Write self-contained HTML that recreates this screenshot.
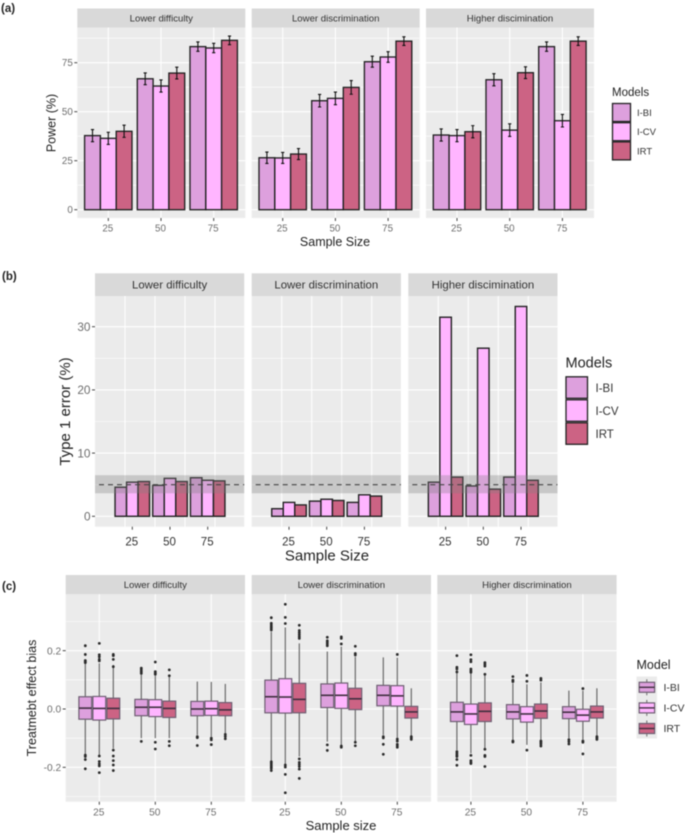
<!DOCTYPE html>
<html lang="en">
<head>
<meta charset="utf-8">
<title>Model comparison chart</title>
<style>
html,body{margin:0;padding:0;background:#fff;}
body{width:685px;height:833px;overflow:hidden;}
svg{display:block;filter:blur(0.45px);font-family:"Liberation Sans",sans-serif;}
</style>
</head>
<body>
<svg id="chart" xmlns="http://www.w3.org/2000/svg" width="685" height="833" viewBox="0 0 685 833">
  <rect width="685" height="833" fill="#fff"/>
  <g id="root"></g>
  <g fill="#222">
    <text x="1" y="12" font-size="11.5" font-weight="bold">(a)</text>
    <text x="2" y="280" font-size="11.5" font-weight="bold">(b)</text>
    <text x="2" y="590" font-size="11.5" font-weight="bold">(c)</text>

    <text transform="translate(55.5,123) rotate(-90)" text-anchor="middle" font-size="12.5">Power (%)</text>
    <text x="335" y="246" text-anchor="middle" font-size="12.5">Sample Size</text>
    <text x="612" y="96" font-size="11.5">Models</text>
    <text x="637" y="116" font-size="9.5" fill="#333">I-BI</text>
    <text x="637" y="135" font-size="9.5" fill="#333">I-CV</text>
    <text x="637" y="154.5" font-size="9.5" fill="#333">IRT</text>

    <text transform="translate(70,411.5) rotate(-90)" text-anchor="middle" font-size="15">Type 1 error (%)</text>
    <text x="327" y="560.5" text-anchor="middle" font-size="15">Sample Size</text>
    <text x="565.5" y="367.5" font-size="14.5">Models</text>
    <text x="595.5" y="392" font-size="11.5" fill="#333">I-BI</text>
    <text x="595.5" y="415" font-size="11.5" fill="#333">I-CV</text>
    <text x="595.5" y="438" font-size="11.5" fill="#333">IRT</text>

    <text transform="translate(36,698) rotate(-90)" text-anchor="middle" font-size="12.5">Treatmebt effect bias</text>
    <text x="341" y="830" text-anchor="middle" font-size="13">Sample size</text>
    <text x="636.5" y="669" font-size="12.5">Model</text>
    <text x="663.5" y="691" font-size="10.5" fill="#333">I-BI</text>
    <text x="663.5" y="711.5" font-size="10.5" fill="#333">I-CV</text>
    <text x="663.5" y="732" font-size="10.5" fill="#333">IRT</text>
  </g>
</svg>
<script>
// ---------- shared categories ----------
var sampleSizes = ['25', '50', '75'];
var modelNames = ['I-BI', 'I-CV', 'IRT'];
var conditionsA = ['Lower difficulty', 'Lower discrimination', 'Higher discimination'];
var conditionsB = ['Lower difficulty', 'Lower discrimination', 'Higher discimination'];
var conditionsC = ['Lower difficulty', 'Lower discrimination', 'Higher discrimination'];

// ---------- chart (a): power ----------
var powerValues = [
  [[37.8, 36.4, 40.0], [66.8, 63.1, 69.7], [83.2, 82.5, 86.4]],
  [[26.5, 26.4, 28.4], [55.6, 56.8, 62.4], [75.5, 77.9, 86.0]],
  [[38.1, 37.8, 39.8], [66.3, 40.6, 69.9], [83.2, 45.4, 86.0]]
];
var powerErrors = [
  [[3.1, 3.1, 3.1], [3.0, 3.1, 3.0], [2.4, 2.4, 2.2]],
  [[2.9, 2.8, 2.8], [3.2, 3.2, 3.5], [2.8, 2.7, 2.2]],
  [[3.1, 3.1, 3.1], [3.1, 3.2, 3.0], [2.4, 3.2, 2.2]]
];
var powerTicks = [0, 25, 50, 75];
var powerMinorTicks = [12.5, 37.5, 62.5, 87.5];

// ---------- chart (b): type 1 error ----------
var errorValues = [
  [[4.6, 5.4, 5.5], [4.9, 6.0, 5.5], [6.1, 5.7, 5.6]],
  [[1.2, 2.2, 1.8], [2.4, 2.7, 2.5], [2.2, 3.4, 3.2]],
  [[5.4, 31.5, 6.2], [4.8, 26.6, 4.3], [6.2, 33.2, 5.7]]
];
var errorTicks = [0, 10, 20, 30];
var errorMinorTicks = [5, 15, 25];
var nominalLevel = 5;
var bandLow = 3.64;
var bandHigh = 6.5;

// ---------- chart (c): treatment effect bias ----------
var biasQ1 = [
  [[-.035, -.038, -.034], [-.023, -.026, -.029], [-.023, -.022, -.023]],
  [[-.013, -.014, -.013], [.005, .002, -.002], [.011, .010, -.031]],
  [[-.043, -.053, -.043], [-.034, -.045, -.032], [-.033, -.042, -.031]]
];
var biasMedian = [
  [[.003, .002, .002], [.006, .006, .002], [0, .001, -.003]],
  [[.042, .041, .033], [.047, .047, .035], [.047, .045, -.010]],
  [[-.010, -.017, -.008], [-.010, -.017, -.007], [-.011, -.021, -.010]]
];
var biasQ3 = [
  [[.042, .043, .037], [.033, .032, .027], [.026, .027, .022]],
  [[.099, .104, .088], [.086, .089, .071], [.081, .080, .009]],
  [[.023, .017, .021], [.015, .008, .017], [.008, -.001, .010]]
];
var biasWhiskerLow = [
  [[-.155, -.158, -.135], [-.100, -.100, -.100], [-.089, -.095, -.083]],
  [[-.178, -.190, -.163], [-.112, -.123, -.110], [-.089, -.098, -.091]],
  [[-.141, -.152, -.135], [-.106, -.123, -.106], [-.100, -.105, -.091]]
];
var biasWhiskerHigh = [
  [[.157, .157, .151], [.117, .114, .111], [.094, .093, .086]],
  [[.265, .280, .225], [.197, .214, .179], [.177, .176, .071]],
  [[.122, .126, .117], [.088, .085, .091], [.063, .063, .071]]
];
var biasOutliers = [
  [
    [[.217, .187, .166, .162, .159, -.158, -.163, -.173, -.205],
     [.225, .186, .179, .170, .165, -.161, -.180, -.188, -.195, -.218],
     [.187, .183, .170, .145, -.141, -.161, -.177, -.192, -.211]],
    [[.140, .134, .128, .122, -.111],
     [.161, .128, .123, .119, -.114, -.137],
     [.134, .114, -.111, -.126]],
    [[-.095, -.098, -.125],
     [-.100, -.106, -.122],
     [-.087, -.094, -.102]]
  ],
  [
    [[.313, .294, .288, .282, .277, .271, -.181, -.186, -.192, -.198, -.203, -.211],
     [.359, .314, .293, -.192, -.199, -.224, -.287],
     [.287, .269, .262, .255, .248, .242, -.171, -.183, -.190, -.197, -.206, -.238]],
    [[.246, .234, .229, .223, .217, -.123, -.142],
     [.247, .242, .223, -.127, -.131],
     [.215, .190, .185, -.114, -.126]],
    [[-.095, -.099, -.121, -.155],
     [.187, -.103, -.110, -.121, -.126, -.131],
     [-.095, -.099, -.104]]
  ],
  [
    [[.183, .143, .137, .127, -.146, -.152, -.158, -.163, -.173, -.193],
     [.186, .169, .162, .137, .131, .126, -.159, -.177, -.183, -.187],
     [.159, .153, .147, .119, -.138, -.159, -.163, -.197]],
    [[.111, .099, .094, -.110, -.113],
     [.115, .095, -.141],
     [.105, .099, -.110, -.115, -.120, -.127]],
    [[-.105, -.112, -.120],
     [.070, -.110, -.114, -.154],
     [-.095, -.099, -.104]]
  ]
];
var biasTicks = [-0.2, 0, 0.2];
var biasTickLabels = ['-0.2', '0.0', '0.2'];
var biasMinorTicks = [-0.3, -0.1, 0.1, 0.3];

// ---------- styling and axis functions ----------
var FILLS = ['#dda0dd', '#ffb5ff', '#cc6384'];
var SVGNS = 'http://www.w3.org/2000/svg';
var root = document.getElementById('root');

function mk(tag, attrs, parent) {
  var el = document.createElementNS(SVGNS, tag);
  for (var k in attrs) { el.setAttribute(k, attrs[k]); }
  parent.appendChild(el);
  return el;
}

var layoutA = { left: [77.3, 251.7, 426], width: 168, stripTop: 8.5, top: 27.5, bottom: 218, first: 31, step: 52.7, barW: 15.8, strip: 9.6, tick: 9.8, labelY: 231.5 };
var layoutB = { left: [95, 251.7, 408.3], width: 149.2, stripTop: 273.3, top: 296, bottom: 526.7, first: 37.3, step: 37.7, barW: 11.5, strip: 11.4, tick: 11.5, labelY: 545.5 };
var layoutC = { left: [65.7, 251.7, 437.3], width: 179.3, stripTop: 575, top: 594.3, bottom: 801.7, first: 33.6, step: 56, barW: 14, strip: 9.6, tick: 10.2, labelY: 815.5 };

function yA(v) { return 209.7 - v * 1.96; }
function yB(v) { return 516.3 - v * 6.32; }
function yC(v) { return 709 - v * 291.7; }
function xCat(L, p, s) { return L.left[p] + L.first + s * L.step; }
function xModel(L, p, s, m) { return xCat(L, p, s) + (m - 1) * L.barW; }

function drawPanel(L, p, yFn, majors, minors, vGrids, title, group) {
  var bg = mk('rect', { x: L.left[p], y: L.top, width: L.width, height: L.bottom - L.top, fill: '#ebebeb' }, group);
  
  
  var st = mk('rect', { x: L.left[p], y: L.stripTop, width: L.width, height: L.top - L.stripTop, fill: '#d9d9d9' }, group);
  
  
  var tx = mk('text', { x: L.left[p] + L.width / 2, y: (L.stripTop + L.top) / 2 + L.strip * 0.35, 'text-anchor': 'middle', 'font-size': L.strip, fill: '#333' }, group);
  tx.textContent = title;
  
  
  minors.forEach(function (v) {
    var g = mk('line', { x1: L.left[p], x2: L.left[p] + L.width, y1: yFn(v), y2: yFn(v), stroke: '#fff', 'stroke-width': 0.6 }, group);
    
    
  });
  majors.forEach(function (v) {
    var g = mk('line', { x1: L.left[p], x2: L.left[p] + L.width, y1: yFn(v), y2: yFn(v), stroke: '#fff', 'stroke-width': 1.1 }, group);
    
    
  });
  vGrids.forEach(function (x) {
    var g = mk('line', { x1: x, x2: x, y1: L.top, y2: L.bottom, stroke: '#fff', 'stroke-width': 1.1 }, group);
    
    
  });
}

function drawXTicks(L, p, color, group) {
  sampleSizes.forEach(function (label, s) {
    var x = xCat(L, p, s);
    var t = mk('line', { x1: x, x2: x, y1: L.bottom, y2: L.bottom + 3, stroke: '#444', 'stroke-width': 1 }, group);
    
    
    var l = mk('text', { x: x - 0.5, y: L.labelY, 'text-anchor': 'middle', 'font-size': L.tick, fill: color }, group);
    l.textContent = label;
    
    
  });
}

function drawYTicks(L, yFn, ticks, labels, fontSize, group) {
  ticks.forEach(function (v, i) {
    var x = L.left[0];
    var t = mk('line', { x1: x - 3, x2: x, y1: yFn(v), y2: yFn(v), stroke: '#444', 'stroke-width': 1 }, group);
    
    
    var l = mk('text', { x: x - 4.5, y: yFn(v) + fontSize * 0.36, 'text-anchor': 'end', 'font-size': fontSize, fill: '#6e6e6e' }, group);
    l.textContent = labels[i];
    
    
  });
}

function drawBar(L, yFn, p, s, m, value, strokeW, group) {
  var x = xModel(L, p, s, m) - L.barW / 2;
  var b = mk('rect', { x: x, y: yFn(value), width: L.barW, height: yFn(0) - yFn(value), fill: FILLS[m], stroke: '#222', 'stroke-width': strokeW }, group);
  
  
}

function legendKey(x, y, w, h, m, group) {
  var k = mk('rect', { x: x, y: y, width: w, height: h, fill: FILLS[m], stroke: '#222', 'stroke-width': 1.3 }, group);
  
  
}

// ---------- draw (a) ----------
var gA = mk('g', {}, root);


conditionsA.forEach(function (title, p) {
  var vg = sampleSizes.map(function (_, s) { return xCat(layoutA, p, s); });
  drawPanel(layoutA, p, yA, powerTicks, powerMinorTicks, vg, title, gA);
  powerValues[p].forEach(function (row, s) {
    row.forEach(function (v, m) { drawBar(layoutA, yA, p, s, m, v, 1.35, gA); });
  });
  powerValues[p].forEach(function (row, s) {
    row.forEach(function (v, m) {
      var x = xModel(layoutA, p, s, m), e = powerErrors[p][s][m];
      var d = 'M' + (x - 1.6) + ' ' + yA(v + e) + 'H' + (x + 1.6) + 'M' + x + ' ' + yA(v + e) + 'V' + yA(v - e) + 'M' + (x - 1.6) + ' ' + yA(v - e) + 'H' + (x + 1.6);
      var eb = mk('path', { d: d, fill: 'none', stroke: '#111', 'stroke-width': 1.1 }, gA);
      
      
    });
  });
  drawXTicks(layoutA, p, '#6e6e6e', gA);
});
drawYTicks(layoutA, yA, powerTicks, powerTicks.map(String), 9.8, gA);
[0, 1, 2].forEach(function (m) { legendKey(612.5, 103.5 + m * 19.2, 18, 18, m, gA); });

// ---------- draw (b) ----------
var gB = mk('g', {}, root);


conditionsB.forEach(function (title, p) {
  var vg = [30, 60, 90, 120].map(function (o) { return layoutB.left[p] + o; });
  drawPanel(layoutB, p, yB, errorTicks, errorMinorTicks, vg, title, gB);
  errorValues[p].forEach(function (row, s) {
    row.forEach(function (v, m) { drawBar(layoutB, yB, p, s, m, v, 1.4, gB); });
  });
  var band = mk('rect', { x: layoutB.left[p], y: yB(bandHigh), width: layoutB.width, height: yB(bandLow) - yB(bandHigh), fill: '#808080', opacity: 0.33 }, gB);
  
  
  var ref = mk('line', { x1: layoutB.left[p] + 4, x2: layoutB.left[p] + layoutB.width, y1: yB(nominalLevel), y2: yB(nominalLevel), stroke: '#444', 'stroke-width': 1.2, 'stroke-dasharray': '5 4' }, gB);
  
  
  drawXTicks(layoutB, p, '#333', gB);
});
drawYTicks(layoutB, yB, errorTicks, errorTicks.map(String), 11.8, gB);
[0, 1, 2].forEach(function (m) { legendKey(566, 376.8 + m * 23, 21.5, 21.5, m, gB); });

// ---------- draw (c) ----------
var gC = mk('g', {}, root);


conditionsC.forEach(function (title, p) {
  var vg = sampleSizes.map(function (_, s) { return xCat(layoutC, p, s); });
  drawPanel(layoutC, p, yC, biasTicks, biasMinorTicks, vg, title, gC);
  biasMedian[p].forEach(function (row, s) {
    row.forEach(function (med, m) {
      var x = xModel(layoutC, p, s, m), hw = 6.4;
      var wh = mk('line', { x1: x, x2: x, y1: yC(biasWhiskerHigh[p][s][m]), y2: yC(biasWhiskerLow[p][s][m]), stroke: '#6a6a6a', 'stroke-width': 1.2 }, gC);
      
      
      var box = mk('rect', { x: x - hw, y: yC(biasQ3[p][s][m]), width: 2 * hw, height: yC(biasQ1[p][s][m]) - yC(biasQ3[p][s][m]), fill: FILLS[m], stroke: '#6e5e72', 'stroke-width': 1.2 }, gC);
      
      
      var ml = mk('line', { x1: x - hw, x2: x + hw, y1: yC(med), y2: yC(med), stroke: '#3f2f3f', 'stroke-width': 1.6 }, gC);
      
      
      biasOutliers[p][s][m].forEach(function (o) {
        var c = mk('circle', { cx: x, cy: yC(o), r: 1.4, fill: '#2b2b2b' }, gC);
        
        
      });
    });
  });
  drawXTicks(layoutC, p, '#6e6e6e', gC);
});
drawYTicks(layoutC, yC, biasTicks, biasTickLabels, 10.2, gC);

var keyBg = mk('rect', { x: 636.5, y: 676.5, width: 20.5, height: 62, fill: '#ebebeb' }, gC);


[0, 1, 2].forEach(function (m) {
  var cy = 687.3 + m * 20.6;
  var w = mk('line', { x1: 646.8, x2: 646.8, y1: cy - 8, y2: cy + 8, stroke: '#6a6a6a', 'stroke-width': 1 }, gC);
  
  
  var b = mk('rect', { x: 639.2, y: cy - 5, width: 15.4, height: 10, fill: FILLS[m], stroke: '#6e5e72', 'stroke-width': 1.2 }, gC);
  
  
  var l = mk('line', { x1: 639.2, x2: 654.6, y1: cy, y2: cy, stroke: '#3f2f3f', 'stroke-width': 1.4 }, gC);
  
  
});
</script>
</body>
</html>
